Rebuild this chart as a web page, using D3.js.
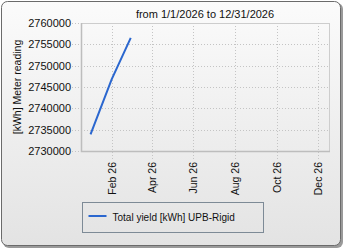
<!DOCTYPE html>
<html>
<head>
<meta charset="utf-8">
<script src="https://cdn.jsdelivr.net/npm/d3@7"></script>
<style>
  body { margin: 0; background: #fff; }
  svg { display: block; font-family: "Liberation Sans", Arial, sans-serif; }
</style>
</head>
<body>
<div id="chart"></div>
<script>
// data
const DATES = ["2026-01-15", "2026-02-15", "2026-03-15"];
const VALUES = [2733900, 2746800, 2756500];
const X_TICKS = ["2026-02-15", "2026-04-15", "2026-06-15", "2026-08-15", "2026-10-15", "2026-12-15"];
const X_TICK_LABELS = ["Feb 26", "Apr 26", "Jun 26", "Aug 26", "Oct 26", "Dec 26"];
const Y_TICKS = [2730000, 2735000, 2740000, 2745000, 2750000, 2755000, 2760000];
const TITLE = "from 1/1/2026 to 12/31/2026";
const Y_TITLE = "[kWh] Meter reading";
const SERIES_NAME = "Total yield [kWh] UPB-Rigid";

// variables
const WIDTH = 345;
const HEIGHT = 250;
const PLOT = { left: 81, top: 23, right: 329, bottom: 151 };
const LINE_COLOR = "#2b67cf";
const GRID_COLOR = "#c4c4c4";

const parse = d3.timeParse("%Y-%m-%d");
const data = DATES.map((d, i) => ({ date: parse(d), value: VALUES[i] }));

const svg = d3.select("#chart")
  .append("svg")
  .attr("width", WIDTH)
  .attr("height", HEIGHT);

// background gradient for the frame
const grad = svg.append("defs")
  .append("linearGradient")
  .attr("id", "bg")
  .attr("x1", 0).attr("y1", 0).attr("x2", 0).attr("y2", 1);
grad.append("stop").attr("offset", "0%").attr("stop-color", "#fbfbfb");
grad.append("stop").attr("offset", "100%").attr("stop-color", "#e3e3e3");

// shadow + frame
svg.append("rect")
  .attr("x", 3).attr("y", 3)
  .attr("width", 340).attr("height", 245)
  .attr("rx", 6)
  .attr("fill", "#9a9a9a");
svg.append("rect")
  .attr("x", 1.5).attr("y", 1.5)
  .attr("width", 339).attr("height", 244)
  .attr("rx", 6)
  .attr("fill", "url(#bg)")
  .attr("stroke", "#6b6b6b");

// scales
const x = d3.scaleTime()
  .domain([parse("2026-01-01"), parse("2026-12-31")])
  .range([PLOT.left, PLOT.right]);
const y = d3.scaleLinear()
  .domain([2730000, 2760000])
  .range([PLOT.bottom, PLOT.top]);

// grid lines (extend outside the plot as ticks)
const g = svg.append("g");
g.append("g")
  .selectAll("line")
  .data(Y_TICKS)
  .enter()
  .append("line")
  .attr("x1", PLOT.left - 9)
  .attr("x2", PLOT.right)
  .attr("y1", d => Math.round(y(d)) + 0.5)
  .attr("y2", d => Math.round(y(d)) + 0.5)
  .attr("stroke", GRID_COLOR)
  .attr("stroke-dasharray", "1,2");

g.append("g")
  .selectAll("line")
  .data(X_TICKS.map(parse))
  .enter()
  .append("line")
  .attr("x1", d => Math.round(x(d)) + 0.5)
  .attr("x2", d => Math.round(x(d)) + 0.5)
  .attr("y1", PLOT.top)
  .attr("y2", PLOT.bottom + 9)
  .attr("stroke", GRID_COLOR)
  .attr("stroke-dasharray", "1,2");

// plot border
g.append("rect")
  .attr("x", PLOT.left + 0.5)
  .attr("y", PLOT.top + 0.5)
  .attr("width", PLOT.right - PLOT.left)
  .attr("height", PLOT.bottom - PLOT.top)
  .attr("fill", "none")
  .attr("stroke", "#cdcdcd");
g.append("path")
  .attr("d", `M${PLOT.left + 0.5},${PLOT.top}V${PLOT.bottom + 0.5}H${PLOT.right + 1}`)
  .attr("fill", "none")
  .attr("stroke", "#bdbdbd")
  .attr("stroke-width", 1.5);

// y tick labels
g.append("g")
  .selectAll("text")
  .data(Y_TICKS)
  .enter()
  .append("text")
  .attr("x", PLOT.left - 10)
  .attr("y", d => y(d))
  .attr("dy", "0.35em")
  .attr("text-anchor", "end")
  .attr("font-size", 11)
  .attr("fill", "#111")
  .text(d => d3.format("d")(d));

// x tick labels, rotated
g.append("g")
  .selectAll("text")
  .data(X_TICKS.map(parse))
  .enter()
  .append("text")
  .attr("transform", d => `translate(${Math.round(x(d)) + 0.5},${PLOT.bottom + 11}) rotate(-90)`)
  .attr("dy", "0.35em")
  .attr("text-anchor", "end")
  .attr("font-size", 10.5)
  .attr("fill", "#111")
  .text((d, i) => X_TICK_LABELS[i]);

// titles
svg.append("text")
  .attr("x", (PLOT.left + PLOT.right) / 2)
  .attr("y", 18)
  .attr("text-anchor", "middle")
  .attr("font-size", 11)
  .attr("fill", "#111")
  .text(TITLE);

svg.append("text")
  .attr("transform", `translate(21,${(PLOT.top + PLOT.bottom) / 2}) rotate(-90)`)
  .attr("text-anchor", "middle")
  .attr("font-size", 10.5)
  .attr("fill", "#111")
  .text(Y_TITLE);

// series line
const line = d3.line()
  .x(d => x(d.date))
  .y(d => y(d.value));

svg.append("path")
  .datum(data)
  .attr("d", line)
  .attr("fill", "none")
  .attr("stroke", LINE_COLOR)
  .attr("stroke-width", 2);

// legend
const legend = svg.append("g").attr("transform", "translate(82.5,202.5)");
legend.append("rect")
  .attr("width", 181)
  .attr("height", 30)
  .attr("fill", "none")
  .attr("stroke", "#7d8a96");
legend.append("line")
  .attr("x1", 6).attr("x2", 24)
  .attr("y1", 13.5).attr("y2", 13.5)
  .attr("stroke", LINE_COLOR)
  .attr("stroke-width", 2);
legend.append("text")
  .attr("x", 30)
  .attr("y", 18)
  .attr("font-size", 10)
  .attr("fill", "#111")
  .text(SERIES_NAME);
</script>
</body>
</html>
